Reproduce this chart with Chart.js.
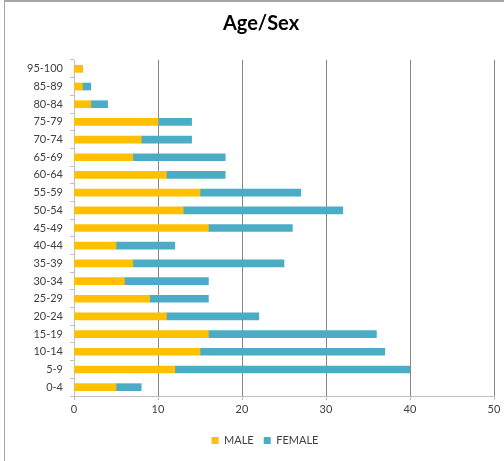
<!DOCTYPE html>
<html>
<head>
<meta charset="utf-8">
<script src="https://cdn.jsdelivr.net/npm/chart.js@4/dist/chart.umd.min.js"></script>
<style>
  html, body { margin: 0; padding: 0; background: #fff; }
  #wrap { position: relative; width: 504px; height: 461px; }
  #frame { position: absolute; left: 4px; top: 0; width: 504px; height: 461px;
           border-left: 1px solid #a6a6a6; border-top: 2px solid #a6a6a6; box-sizing: border-box; pointer-events: none; }
  canvas { position: absolute; left: 0; top: 0; }
</style>
</head>
<body>
<div id="wrap">
  <canvas id="c" width="504" height="461"></canvas>
  <div id="frame"></div>
</div>
<script>
// Age groups, youngest first (axis is reversed so the oldest sit on top)
const ageGroups = ['0-4','5-9','10-14','15-19','20-24','25-29','30-34','35-39','40-44','45-49',
                   '50-54','55-59','60-64','65-69','70-74','75-79','80-84','85-89','95-100'];
const male   = [5, 12, 15, 16, 11, 9, 6, 7, 5, 16, 13, 15, 11, 7, 8, 10, 2, 1, 1];
const female = [3, 28, 22, 20, 11, 7, 10, 18, 7, 10, 19, 12, 7, 11, 6, 4, 2, 1, 0];
const xTicks = [0, 10, 20, 30, 40, 50];

const FONT = 'Lato, "Open Sans", sans-serif';
const TEXT = '#404040';

// The chart frame runs a little wider than the canvas on the right,
// so title and legend are centred slightly right of the canvas middle.
const nudgeBoxes = {
  id: 'nudgeBoxes',
  afterLayout(chart) {
    if (chart.titleBlock) { chart.titleBlock.left += 14; chart.titleBlock.right += 14; }
    if (chart.legend) { chart.legend.left += 18; chart.legend.right += 18; }
  }
};

new Chart(document.getElementById('c'), {
  type: 'bar',
  data: {
    labels: ageGroups,
    datasets: [
      { label: 'MALE', data: male, backgroundColor: '#FFC000', barThickness: 7 },
      { label: 'FEMALE', data: female, backgroundColor: '#4BACC6', barThickness: 7 }
    ]
  },
  plugins: [nudgeBoxes],
  options: {
    indexAxis: 'y',
    responsive: false,
    animation: false,
    devicePixelRatio: 1,
    layout: { padding: { left: 0, right: 10, top: 0, bottom: 5 } },
    plugins: {
      title: {
        display: true,
        text: 'Age/Sex',
        color: '#000',
        font: { family: FONT, size: 20, weight: 'bold' },
        padding: { top: 12, bottom: 24 }
      },
      legend: {
        position: 'bottom',
        labels: {
          color: TEXT,
          font: { family: FONT, size: 11 },
          boxWidth: 7,
          boxHeight: 7,
          padding: 10
        }
      },
      tooltip: { enabled: false }
    },
    scales: {
      x: {
        stacked: true,
        min: 0,
        max: 50,
        afterBuildTicks: (s) => { s.ticks = xTicks.map(v => ({ value: v })); },
        afterFit: (s) => { s.height = 29; },
        ticks: { color: TEXT, font: { family: FONT, size: 11 }, padding: 3 },
        border: { display: true, color: '#bfbfbf' },
        grid: {
          color: (ctx) => (ctx.tick && ctx.tick.value === 0) ? 'rgba(0,0,0,0)' : '#868686',
          tickColor: '#bfbfbf',
          tickLength: 4,
          lineWidth: 1
        }
      },
      y: {
        stacked: true,
        reverse: true,
        afterFit: (s) => { s.width = 74; },
        ticks: { color: TEXT, font: { family: FONT, size: 11 }, padding: 7 },
        border: { display: true, color: '#bfbfbf' },
        grid: { drawOnChartArea: false, tickLength: 4, color: '#bfbfbf', offset: true }
      }
    }
  }
});
</script>
</body>
</html>
